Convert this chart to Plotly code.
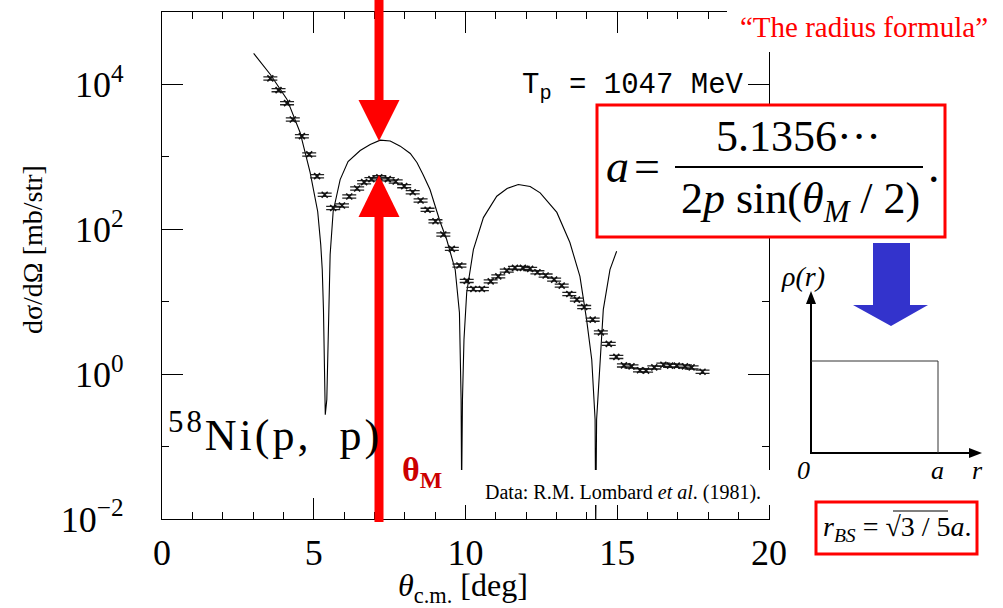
import plotly.graph_objects as go

# ---------------- data ----------------
exp_theta = [3.57, 3.84, 4.12, 4.31, 4.61, 4.85, 5.11, 5.36, 5.64, 5.93,
             6.17, 6.43, 6.66, 6.90, 7.16, 7.44, 7.70, 7.98, 8.26, 8.52,
             8.75, 9.01, 9.27, 9.55, 9.80, 10.04, 10.26, 10.54, 10.83, 11.08,
             11.36, 11.63, 11.89, 12.13, 12.37, 12.64, 12.92, 13.17, 13.42, 13.67,
             13.91, 14.19, 14.46, 14.72, 14.97, 15.22, 15.47, 15.75, 15.95, 16.22,
             16.52, 16.74, 16.96, 17.23, 17.45, 17.81]
exp_xsec = [12100, 8340, 5520, 3280, 1930, 1080, 541, 300, 197, 213,
            284, 366, 447, 492, 522, 492, 457, 394, 325, 250,
            186, 129, 84.7, 53.7, 31.6, 19.4, 15.0, 15.0, 19.1, 22.4,
            26.9, 29.3, 29.3, 28.4, 25.5, 23.0, 20.2, 16.7, 12.8, 10.7,
            8.44, 5.66, 3.78, 2.62, 1.73, 1.32, 1.28, 1.13, 1.12, 1.24,
            1.35, 1.31, 1.31, 1.28, 1.24, 1.08]

th_theta = [3.02, 3.57, 4.12, 4.55, 4.88, 5.13, 5.23, 5.28, 5.32, 5.36,
            5.38, 5.43, 5.48, 5.54, 5.64, 5.87, 6.13, 6.53, 6.86, 7.19,
            7.52, 7.85, 8.18, 8.40, 8.60, 8.83, 9.16, 9.38, 9.66, 9.80,
            9.855, 9.872, 9.90, 9.95, 10.04, 10.26, 10.59, 11.03, 11.37, 11.74,
            12.13, 12.46, 13.01, 13.44, 13.77, 13.99, 14.16, 14.27, 14.29, 14.32,
            14.36, 14.43, 14.54, 14.76, 14.98]
th_xsec = [26800, 13700, 6210, 2170, 609, 176, 61.5, 27.8, 7.78, 1.15,
           0.276, 0.445, 4.12, 44.8, 176, 486, 863, 1225, 1483, 1700,
           1656, 1406, 1114, 836, 571, 354, 128, 72.2, 27.8, 7.08,
           0.445, 0.025, 0.445, 3.0, 13.4, 52.5, 145, 286, 366, 415,
           390, 319, 171, 65.6, 22.4, 5.66, 1.58, 0.236, 0.0071, 0.236,
           0.445, 1.58, 7.78, 27.8, 49.8]

theta_M = 7.15
x_range = [0, 20]
x_ticks = [0, 5, 10, 15, 20]
x_minor = list(range(0, 21))
y_range_log = [-2, 5]
y_ticks = [1e-2, 1, 1e2, 1e4]
y_ticklabels = ["10<sup>\u22122</sup>", "10<sup>0</sup>", "10<sup>2</sup>", "10<sup>4</sup>"]
y_minor = [1e-1, 1e1, 1e3]

# ---------------- layout helpers ----------------
W, H = 1003, 608
ML, MR, MT, MB = 162, 234, 12, 89
PW = W - ML - MR
PH = H - MT - MB


def px(x):
    return (x - ML) / PW


def py(y):
    return (H - MB - y) / PH


SERIF = "Liberation Serif"
MONO = "Liberation Mono"

fig = go.Figure()

fig.add_trace(go.Scatter(
    x=th_theta, y=th_xsec, mode="lines",
    line=dict(color="black", width=1.1), hoverinfo="skip", showlegend=False))

fig.add_trace(go.Scatter(
    x=exp_theta, y=exp_xsec, mode="markers",
    marker=dict(symbol="x-thin", size=6, line=dict(color="#111", width=1.6)),
    error_y=dict(type="percent", value=5, width=7, thickness=1.3, color="#222"),
    showlegend=False, hoverinfo="skip"))

axis_common = dict(
    showline=True, linecolor="black", linewidth=1.3, mirror="ticks",
    ticks="inside", tickcolor="black", tickwidth=1, ticklen=21,
    showgrid=False, zeroline=False,
    tickfont=dict(family=SERIF, size=36, color="black"),
)

fig.update_xaxes(range=x_range, tickmode="array", tickvals=x_ticks,
                 ticktext=[str(v) for v in x_ticks], ticklabelstandoff=2,
                 minor=dict(tickmode="array", tickvals=x_minor, ticks="inside", ticklen=7,
                            tickcolor="black", tickwidth=1, showgrid=False),
                 **axis_common)
fig.update_yaxes(type="log", range=y_range_log, tickmode="array", tickvals=y_ticks,
                 ticktext=y_ticklabels, ticklabelstandoff=30,
                 minor=dict(tickmode="array", tickvals=y_minor, ticks="inside", ticklen=7,
                            tickcolor="black", tickwidth=1, showgrid=False),
                 **axis_common)

shapes = []
# white covers
shapes.append(dict(type="rect", xref="paper", yref="paper", x0=px(727), x1=px(1003), y0=py(52), y1=py(0),
                   fillcolor="white", line=dict(width=0), layer="above"))
shapes.append(dict(type="rect", xref="paper", yref="paper", x0=px(455), x1=px(775), y0=py(505), y1=py(470),
                   fillcolor="white", line=dict(width=0), layer="above"))
# red theta_M arrow
xM = theta_M / (x_range[1] - x_range[0])
hw = 4.5 / PW
hh = 20.5 / PW
shapes.append(dict(type="rect", xref="paper", yref="paper", x0=xM - hw, x1=xM + hw, y0=py(102), y1=py(0),
                   fillcolor="#ff0000", line=dict(width=0), layer="above"))
shapes.append(dict(type="path", xref="paper", yref="paper",
                   path=f"M {xM-hh},{py(100)} L {xM+hh},{py(100)} L {xM},{py(141)} Z",
                   fillcolor="#ff0000", line=dict(width=0), layer="above"))
shapes.append(dict(type="path", xref="paper", yref="paper",
                   path=f"M {xM},{py(175)} L {xM+hh},{py(217)} L {xM-hh},{py(217)} Z",
                   fillcolor="#ff0000", line=dict(width=0), layer="above"))
shapes.append(dict(type="rect", xref="paper", yref="paper", x0=xM - hw, x1=xM + hw, y0=py(522), y1=py(215),
                   fillcolor="#ff0000", line=dict(width=0), layer="above"))
# formula box
shapes.append(dict(type="rect", xref="paper", yref="paper", x0=px(597), x1=px(945), y0=py(237), y1=py(105),
                   fillcolor="white", line=dict(color="#ff0000", width=3), layer="above"))
shapes.append(dict(type="line", xref="paper", yref="paper", x0=px(675), x1=px(923), y0=py(167), y1=py(167),
                   line=dict(color="black", width=2), layer="above"))
# blue arrow
shapes.append(dict(type="path", xref="paper", yref="paper",
                   path=(f"M {px(873)},{py(243)} L {px(910)},{py(243)} L {px(910)},{py(305)} "
                         f"L {px(928)},{py(305)} L {px(891)},{py(326)} L {px(853)},{py(305)} "
                         f"L {px(873)},{py(305)} Z"),
                   fillcolor="#3333cc", line=dict(width=0), layer="above"))
# rho(r) diagram
shapes.append(dict(type="line", xref="paper", yref="paper", x0=px(811), x1=px(811), y0=py(454), y1=py(300),
                   line=dict(color="black", width=2), layer="above"))
shapes.append(dict(type="path", xref="paper", yref="paper",
                   path=f"M {px(811)},{py(291)} L {px(816)},{py(304)} L {px(806)},{py(304)} Z",
                   fillcolor="black", line=dict(width=0), layer="above"))
shapes.append(dict(type="line", xref="paper", yref="paper", x0=px(810), x1=px(974), y0=py(453), y1=py(453),
                   line=dict(color="black", width=2), layer="above"))
shapes.append(dict(type="path", xref="paper", yref="paper",
                   path=f"M {px(982)},{py(453)} L {px(969)},{py(448)} L {px(969)},{py(458)} Z",
                   fillcolor="black", line=dict(width=0), layer="above"))
shapes.append(dict(type="path", xref="paper", yref="paper",
                   path=f"M {px(811)},{py(361)} L {px(938)},{py(361)} L {px(938)},{py(453)}",
                   line=dict(color="#333", width=1), layer="above"))
# r_BS box
shapes.append(dict(type="rect", xref="paper", yref="paper", x0=px(816), x1=px(977), y0=py(554), y1=py(502),
                   fillcolor="white", line=dict(color="#ff0000", width=3), layer="above"))
shapes.append(dict(type="line", xref="paper", yref="paper", x0=px(893), x1=px(948), y0=py(511), y1=py(511),
                   line=dict(color="black", width=1.2), layer="above"))

annotations = []


def ann(text, x, y, size, color="black", family=SERIF, xanchor="center", yanchor="middle", **kw):
    annotations.append(dict(text=text, x=px(x), y=py(y), xref="paper", yref="paper",
                            showarrow=False, xanchor=xanchor, yanchor=yanchor,
                            font=dict(family=family, size=size, color=color), **kw))


ann("d\u03c3/d\u03a9 [mb/str]", 33, 250, 28, textangle=-90)
ann("<i>\u03b8</i><sub>c.m.</sub> [deg]", 463, 587, 32)
ann("<span style='letter-spacing:3px'><sup>58</sup>Ni(p,\u00a0\u00a0p)</span>", 166, 432, 44, xanchor="left")
ann("T<sub>p</sub> = 1047 MeV", 746, 87, 29, family=MONO, xanchor="right")
ann("<b>\u03b8<sub>M</sub></b>", 400, 472, 34, color="#cc0000", xanchor="left")
ann("Data: R.M. Lombard <i>et al</i>. (1981).", 763, 492, 20, xanchor="right")
ann("\u201cThe radius formula\u201d", 864, 27, 29, color="#ff0000")
ann("<i>a</i>", 617, 166, 46)
ann("=", 647, 166, 46)
ann("5.1356\u00b7\u00b7\u00b7", 798, 136, 44)
ann("2<i>p</i> sin(<i>\u03b8</i><sub><i>M</i></sub> / 2)", 800, 201, 44)
ann(".", 934, 166, 46)
ann("<i>\u03c1(r)</i>", 803, 276, 28)
ann("<i>0</i>", 804, 470, 26)
ann("<i>a</i>", 938, 470, 26)
ann("<i>r</i>", 977, 470, 26)
ann("<i>r</i><sub><i>BS</i></sub> = \u221a3 / 5<i>a</i>.", 897, 528, 28)

fig.update_layout(
    width=W, height=H, margin=dict(l=ML, r=MR, t=MT, b=MB, autoexpand=False),
    paper_bgcolor="white", plot_bgcolor="white",
    shapes=shapes, annotations=annotations, showlegend=False,
)

fig.write_html("out.html")
